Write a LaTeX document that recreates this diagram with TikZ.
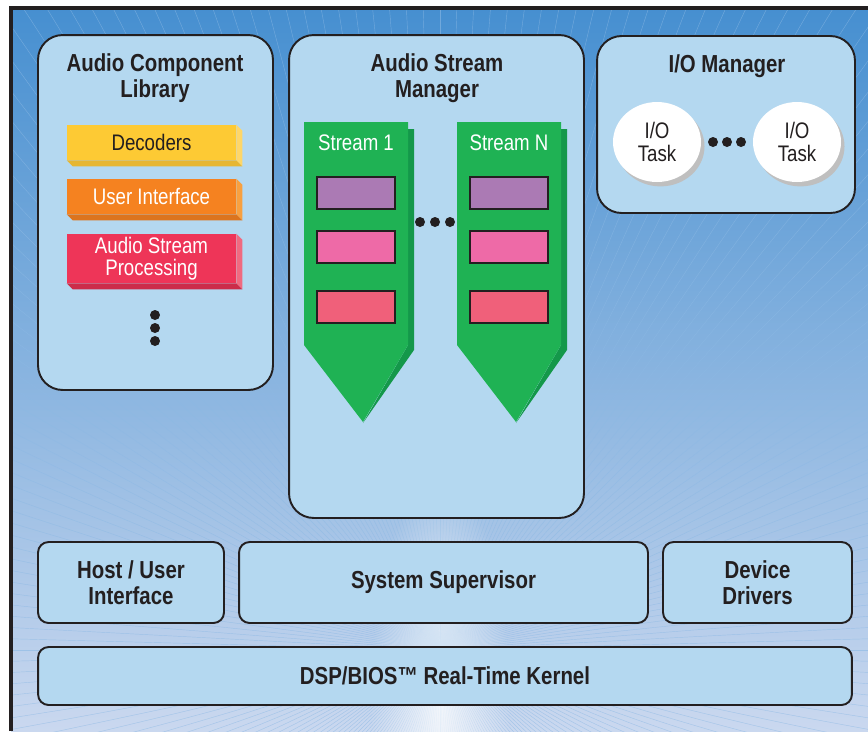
\documentclass[tikz,border=0pt]{standalone}
\usepackage{fontspec}
\setmainfont{Liberation Sans}[FakeStretch=0.83]
\usetikzlibrary{shapes.geometric, shadows, fadings, calc}

\definecolor{bgtop}{RGB}{70,143,208}
\definecolor{bgbot}{RGB}{202,216,239}
\definecolor{raycol}{RGB}{140,185,228}
\definecolor{frameblk}{RGB}{35,31,32}
\definecolor{panelblue}{RGB}{180,216,240}
\definecolor{decfront}{RGB}{253,202,52}
\definecolor{decside}{RGB}{254,214,104}
\definecolor{decbot}{RGB}{230,182,50}
\definecolor{uifront}{RGB}{245,130,32}
\definecolor{uiside}{RGB}{248,160,64}
\definecolor{uibot}{RGB}{220,116,30}
\definecolor{aspfront}{RGB}{238,53,88}
\definecolor{aspside}{RGB}{240,106,128}
\definecolor{aspbot}{RGB}{204,44,74}
\definecolor{grn}{RGB}{31,178,84}
\definecolor{grndark}{RGB}{20,152,74}
\definecolor{slotpurple}{RGB}{171,122,180}
\definecolor{slotpink}{RGB}{238,106,167}
\definecolor{slotred}{RGB}{240,96,122}

\newcommand{\ttlfont}{\fontsize{14}{15}\selectfont\bfseries}
\newcommand{\boxfont}{\fontsize{12.8}{12.8}\selectfont}

\tikzfading[name=glow, inner color=transparent!0, outer color=transparent!100]

\tikzset{
  panel/.style={rectangle, draw=frameblk, fill=panelblue, rounded corners=14pt,
                line width=1.1pt, inner sep=0pt},
  layer/.style={rectangle, draw=frameblk, fill=panelblue, rounded corners=6pt,
                line width=1.1pt, inner sep=0pt, minimum height=1.62cm,
                align=center, font=\ttlfont, text=frameblk},
  title/.style={align=center, font=\ttlfont, text=frameblk, inner sep=0pt},
  libblock/.style={rectangle, minimum width=3.38cm, inner sep=0pt,
                   align=center, font=\boxfont},
  slot/.style={rectangle, draw=frameblk, line width=1pt, minimum width=1.56cm,
               minimum height=0.64cm, inner sep=0pt},
  streamlbl/.style={font=\boxfont, text=white, inner sep=0pt},
  iotask/.style={ellipse, fill=white, minimum width=1.76cm, minimum height=1.6cm,
                 inner sep=0pt, align=center, font=\boxfont, text=frameblk,
                 drop shadow={shadow xshift=2pt, shadow yshift=-2.5pt,
                              fill=black!25, opacity=1}},
  dot/.style={fill=frameblk}
}

\begin{document}
\begin{tikzpicture}[x=0.02cm, y=-0.02cm]
  \useasboundingbox (0,0) rectangle (868,731);

  % background with rays
  \fill[top color=bgtop, bottom color=bgbot] (11,8) rectangle (868,731);
  \begin{scope}
    \clip (11,8) rectangle (868,731);
    \foreach \a in {0,1.5,...,358.5}
      \draw[raycol, opacity=0.6, line width=0.25pt] (440,650) -- ++(\a:1200);
    \fill[white, path fading=glow, opacity=0.8] (440,700) ellipse (1.4cm and 4.5cm);
  \end{scope}
  \draw[frameblk, line width=2pt] (11,731) -- (11,8) -- (868,8);

  % top panels
  \node[panel, minimum width=4.70cm, minimum height=7.10cm] (acl) at (155.5,212.5) {};
  \node[panel, minimum width=5.90cm, minimum height=9.66cm] (asm) at (436.5,276.5) {};
  \node[panel, minimum width=5.16cm, minimum height=3.54cm] (iom) at (726,124.5) {};

  \node[title] (acltitle) at (155,78) {Audio Component\\Library};
  \node[title] (asmtitle) at (437,78) {Audio Stream\\Manager};
  \node[title] (iomtitle) at (727,66) {I/O Manager};

  % component library
  \node[libblock, fill=decfront, minimum height=0.70cm, text=frameblk] (dec) at (151.5,142.5) {Decoders};
  \node[libblock, fill=uifront, minimum height=0.70cm, text=white] (ui) at (151.5,196.5) {User Interface};
  \node[libblock, fill=aspfront, minimum height=0.98cm, text=white] (asp) at (151.5,258.5) {Audio Stream\\Processing};
  \foreach \b in {dec,ui,asp} {
    \fill[\b side] (\b.north east) -- ++(6,6) -- ($(\b.south east)+(6,6)$) -- (\b.south east) -- cycle;
    \fill[\b bot] (\b.south west) -- ++(6,6) -- ($(\b.south east)+(6,6)$) -- (\b.south east) -- cycle;
  }
  \foreach \y in {315,328,341}
    \fill[dot] (155,\y) circle (0.1cm);

  % streams
  \foreach \dx/\lbl/\nm in {0/Stream 1/sa, 153/Stream N/sn} {
    \begin{scope}[shift={(\dx,0)}]
      \fill[grndark] (408,129) -- (414,129) -- (414,350) -- (363,423) -- (408,345) -- cycle;
      \fill[grn] (304,122) -- (408,122) -- (408,345) -- (363,422) -- (304,345) -- cycle;
      \node[streamlbl] (\nm) at (356,143) {\lbl};
      \node[slot, fill=slotpurple] (\nm a) at (356,193) {};
      \node[slot, fill=slotpink]   (\nm b) at (356,247) {};
      \node[slot, fill=slotred]    (\nm c) at (356,307) {};
    \end{scope}
  }
  \foreach \x in {420,435,450}
    \fill[dot] (\x,222) circle (0.1cm);

  % I/O manager
  \node[iotask] (io1) at (657,142) {I/O\\Task};
  \node[iotask] (io2) at (797,142) {I/O\\Task};
  \foreach \x in {713,727,741}
    \fill[dot] (\x,142) circle (0.1cm);

  % lower layers
  \node[layer, minimum width=3.72cm] (host) at (131,582.5) {Host / User\\Interface};
  \node[layer, minimum width=8.18cm] (sup) at (443.5,582.5) {System Supervisor};
  \node[layer, minimum width=3.78cm] (drv) at (757.5,582.5) {Device\\Drivers};
  \node[layer, minimum width=16.28cm, minimum height=1.16cm] (kernel) at (445,676)
    {DSP/BIOS™ Real-Time Kernel};
\end{tikzpicture}
\end{document}
